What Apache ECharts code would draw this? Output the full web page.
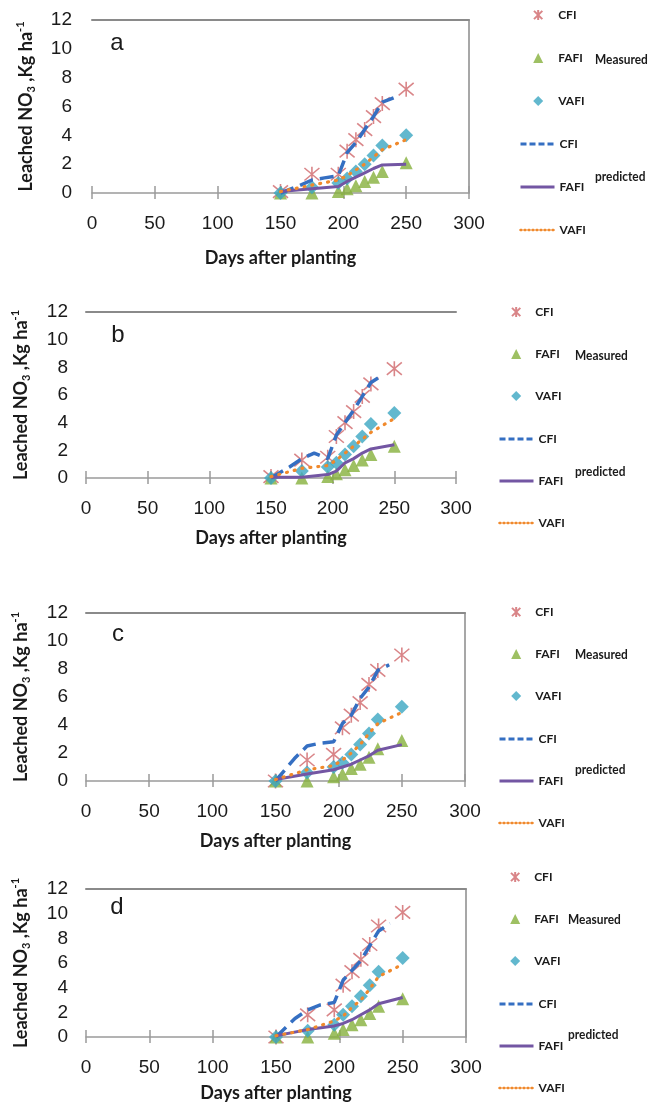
<!DOCTYPE html>
<html lang="en">
<head>
<meta charset="UTF-8">
<title>Leached NO3</title>
<script src="https://cdn.jsdelivr.net/npm/echarts@6/dist/echarts.min.js"></script>
<style>
  html, body { margin: 0; padding: 0; background: #fff; }
  #main { width: 652px; height: 1104px; }
</style>
</head>
<body>
<div id="main"></div>
<script>
// days of the measurements and of the predicted CFI curve
var measuredDays = [150, 175, 196, 203, 210, 217, 224, 231, 250];
var cfiPredDays = [150, 165, 175, 185, 196, 203, 210, 217, 224, 231, 240];
var panelLetters = ['a', 'b', 'c', 'd'];

// panel a
var cfiMeasA  = [0.1, 1.3, 1.3, 2.9, 3.7, 4.4, 5.3, 6.2, 7.2];
var fafiMeasA = [0, 0, 0.1, 0.3, 0.5, 0.8, 1.1, 1.5, 2.1];
var vafiMeasA = [0, 0.4, 0.7, 1.0, 1.5, 2.0, 2.6, 3.3, 4.0];
var cfiPredA  = [0, 0.5, 0.9, 1.05, 1.2, 2.8, 3.5, 4.4, 5.3, 6.3, 6.6];
var fafiPredA = [0.1, 0.3, 0.45, 0.8, 1.1, 1.4, 1.7, 1.95, 2.0];
var vafiPredA = [0.1, 0.55, 0.9, 1.2, 1.6, 2.0, 2.5, 3.0, 3.7];

// panel b
var cfiMeasB  = [0.1, 1.3, 1.5, 3.0, 4.0, 4.8, 5.9, 6.8, 7.9];
var fafiMeasB = [0, 0, 0.1, 0.3, 0.6, 0.9, 1.3, 1.7, 2.3];
var vafiMeasB = [0, 0.5, 0.8, 1.1, 1.7, 2.3, 3.0, 3.9, 4.7];
var cfiPredB  = [0, 0.8, 1.4, 1.8, 1.4, 3.1, 4.0, 4.9, 5.9, 6.9, 7.4];
var fafiPredB = [0.05, 0.05, 0.25, 0.5, 1.1, 1.4, 1.8, 2.1, 2.4];
var vafiPredB = [0.1, 0.7, 0.9, 1.3, 1.8, 2.3, 2.8, 3.3, 4.3];

// panel c
var cfiMeasC  = [0, 1.5, 1.9, 3.8, 4.7, 5.6, 6.9, 7.9, 9.0];
var fafiMeasC = [0, 0, 0.3, 0.5, 0.9, 1.2, 1.7, 2.3, 2.9];
var vafiMeasC = [0, 0.6, 1.0, 1.3, 1.9, 2.6, 3.4, 4.4, 5.3];
var cfiPredC  = [0, 1.6, 2.5, 2.7, 2.8, 4.1, 4.7, 5.9, 6.7, 7.9, 8.3];
var fafiPredC = [0.1, 0.5, 0.8, 1.0, 1.2, 1.5, 1.8, 2.2, 2.6];
var vafiPredC = [0.1, 0.8, 1.1, 1.5, 2.0, 2.6, 3.4, 4.1, 4.9];

// panel d
var cfiMeasD  = [0, 1.8, 2.2, 4.2, 5.3, 6.3, 7.5, 9.0, 10.1];
var fafiMeasD = [0, 0, 0.3, 0.6, 1.0, 1.4, 1.9, 2.5, 3.1];
var vafiMeasD = [0, 0.5, 1.0, 1.8, 2.5, 3.3, 4.2, 5.3, 6.4];
var cfiPredD  = [0, 1.5, 2.2, 2.6, 2.8, 4.6, 5.4, 6.2, 7.4, 8.6, 9.2];
var fafiPredD = [0.1, 0.6, 0.9, 1.1, 1.4, 1.8, 2.2, 2.7, 3.2];
var vafiPredD = [0.1, 0.6, 1.3, 1.7, 2.4, 3.0, 3.9, 4.9, 5.9];

function pairs(xs, ys) {
    var out = [];
    for (var i = 0; i < ys.length; i++) out.push([xs[i], ys[i]]);
    return out;
}

// legM: [icon centre x, first row centre y, row step]; legP: [left, first row centre y]
var panels = [
    { m: [cfiMeasA, fafiMeasA, vafiMeasA], p: [cfiPredA, fafiPredA, vafiPredA],
      grid: { left: 92, top: 20, width: 377, height: 173 }, right: true,
      yGap: 55, xGap: 56, yMargin: 20, legM: [538, 15, 43], legP: [519, 144], textPad: 10,
      letter: [117, 43], meas: [595, 60], pred: [595, 177] },
    { m: [cfiMeasB, fafiMeasB, vafiMeasB], p: [cfiPredB, fafiPredB, vafiPredB],
      grid: { left: 86, top: 312, width: 370, height: 166 }, right: false,
      yGap: 54, xGap: 51, yMargin: 18, legM: [516, 312, 42], legP: [498, 439], textPad: 9,
      letter: [118, 335], meas: [575, 356], pred: [575, 472] },
    { m: [cfiMeasC, fafiMeasC, vafiMeasC], p: [cfiPredC, fafiPredC, vafiPredC],
      grid: { left: 86, top: 613, width: 379, height: 168 }, right: true,
      yGap: 54, xGap: 51, yMargin: 18, legM: [516, 612, 42], legP: [498, 739], textPad: 9,
      letter: [118, 634], meas: [575, 655], pred: [575, 770] },
    { m: [cfiMeasD, fafiMeasD, vafiMeasD], p: [cfiPredD, fafiPredD, vafiPredD],
      grid: { left: 86, top: 889, width: 380, height: 148 }, right: true,
      yGap: 54, xGap: 47, yMargin: 18, legM: [515, 877, 42], legP: [498, 1004], textPad: 9,
      letter: [117, 907], meas: [568, 920], pred: [568, 1035] }
];

var starPath = 'path://M0,0L10,10M10,0L0,10M5,-1L5,11';
var titleFont = 'Lato, "Open Sans", sans-serif';
var legendFont = 'Lato, "Open Sans", sans-serif';
var tickFont = '"Liberation Sans", Arial, sans-serif';
var axisGray = '#9a9a9a';
var ink = '#1a1a1a';

var grids = [], xAxes = [], yAxes = [], series = [], legends = [], graphics = [];

panels.forEach(function (pn, i) {
    var tag = ' ' + panelLetters[i];
    grids.push(pn.grid);

    // main x axis with labels and outward ticks
    xAxes.push({
        gridIndex: i, type: 'value', min: 0, max: 300, interval: 50, position: 'bottom',
        axisLine: { show: true, onZero: false, lineStyle: { color: axisGray, width: 1.5 } },
        axisTick: { show: true, length: 6, lineStyle: { color: axisGray, width: 1.5 } },
        axisLabel: { fontSize: 19, color: ink, margin: 21, fontFamily: tickFont },
        splitLine: { show: false },
        name: 'Days after planting', nameLocation: 'middle', nameGap: pn.xGap,
        nameTextStyle: { fontSize: 18, fontWeight: 'bold', color: ink, fontFamily: titleFont }
    });
    // inward half of the crossing ticks
    xAxes.push({
        gridIndex: i, type: 'value', min: 0, max: 300, interval: 50, position: 'bottom',
        axisLine: { show: false, onZero: false },
        axisTick: { show: true, inside: true, length: 7, lineStyle: { color: axisGray, width: 1.5 } },
        axisLabel: { show: false }, splitLine: { show: false }
    });
    // top border
    xAxes.push({
        gridIndex: i, type: 'value', min: 0, max: 300, position: 'top',
        axisLine: { show: true, onZero: false, lineStyle: { color: '#8a8a8a', width: 2 } },
        axisTick: { show: false }, axisLabel: { show: false }, splitLine: { show: false }
    });

    yAxes.push({
        gridIndex: i, type: 'value', min: 0, max: 12, interval: 2, position: 'left',
        axisLine: { show: false }, axisTick: { show: false }, splitLine: { show: false },
        axisLabel: { fontSize: 19, color: ink, margin: pn.yMargin, fontFamily: tickFont },
        name: '{t|Leached NO}{s|3}{t| ,Kg ha}{p|-1}', nameLocation: 'middle', nameGap: pn.yGap,
        nameTextStyle: {
            rich: {
                t: { fontSize: 18, fontWeight: 'bold', color: ink, fontFamily: titleFont, lineHeight: 22 },
                s: { fontSize: 11, fontWeight: 'bold', color: ink, fontFamily: titleFont, verticalAlign: 'bottom', lineHeight: 11 },
                p: { fontSize: 11, fontWeight: 'bold', color: ink, fontFamily: titleFont, verticalAlign: 'top', lineHeight: 11 }
            }
        }
    });
    // right border
    yAxes.push({
        gridIndex: i, type: 'value', min: 0, max: 12, position: 'right',
        axisLine: { show: pn.right, onZero: false, lineStyle: { color: '#8a8a8a', width: 1.5 } },
        axisTick: { show: false }, axisLabel: { show: false }, splitLine: { show: false }
    });

    var xi = 3 * i, yi = 2 * i;
    var mNames = ['CFI measured' + tag, 'FAFI measured' + tag, 'VAFI measured' + tag];
    var pNames = ['CFI predicted' + tag, 'FAFI predicted' + tag, 'VAFI predicted' + tag];

    series.push({
        name: mNames[0], type: 'scatter', xAxisIndex: xi, yAxisIndex: yi, clip: false, z: 2,
        symbol: starPath, symbolSize: 15,
        itemStyle: { color: 'rgba(0,0,0,0)', borderColor: '#d0666a', borderWidth: 1.6 },
        data: pairs(measuredDays, pn.m[0])
    });
    series.push({
        name: mNames[1], type: 'scatter', xAxisIndex: xi, yAxisIndex: yi, clip: false, z: 2,
        symbol: 'triangle', symbolSize: 13,
        itemStyle: { color: '#86b03c' },
        data: pairs(measuredDays, pn.m[1])
    });
    series.push({
        name: mNames[2], type: 'scatter', xAxisIndex: xi, yAxisIndex: yi, clip: false, z: 2,
        symbol: 'diamond', symbolSize: 14,
        itemStyle: { color: '#3ba6c2' },
        data: pairs(measuredDays, pn.m[2])
    });
    series.push({
        name: pNames[0], type: 'line', xAxisIndex: xi, yAxisIndex: yi, clip: false, z: 3,
        symbol: 'none',
        lineStyle: { color: '#356fc2', width: 3.5, type: [14, 7] },
        itemStyle: { color: '#356fc2' },
        data: pairs(cfiPredDays, pn.p[0])
    });
    series.push({
        name: pNames[1], type: 'line', xAxisIndex: xi, yAxisIndex: yi, clip: false, z: 3,
        symbol: 'none',
        lineStyle: { color: '#7356a3', width: 3 },
        itemStyle: { color: '#7356a3' },
        data: pairs(measuredDays, pn.p[1])
    });
    series.push({
        name: pNames[2], type: 'line', xAxisIndex: xi, yAxisIndex: yi, clip: false, z: 3,
        symbol: 'none',
        lineStyle: { color: '#f0892c', width: 3.2, type: [1, 7], cap: 'round' },
        itemStyle: { color: '#f0892c' },
        data: pairs(measuredDays, pn.p[2])
    });

    var legendText = { fontSize: 12, fontWeight: 'bold', color: ink, fontFamily: legendFont, lineHeight: 12 };
    var shortName = function (name) { return name.split(' ')[0]; };

    // measured: marker icons only
    legends.push({
        orient: 'vertical', left: pn.legM[0] - 5, top: pn.legM[1] - 6, itemGap: pn.legM[2] - 12,
        padding: 0, itemWidth: 10, itemHeight: 10, selectedMode: false,
        data: mNames, formatter: shortName,
        textStyle: Object.assign({ padding: [0, 0, 0, pn.textPad] }, legendText)
    });
    // predicted: line icons only
    legends.push({
        orient: 'vertical', left: pn.legP[0], top: pn.legP[1] - 6, itemGap: pn.legM[2] - 12,
        padding: 0, itemWidth: 34, itemHeight: 12, selectedMode: false,
        itemStyle: { color: 'rgba(0,0,0,0)', borderWidth: 0 },
        data: [
            { name: pNames[0], lineStyle: { type: [6, 3], width: 3 } },
            { name: pNames[1], lineStyle: { width: 3 } },
            { name: pNames[2], lineStyle: { type: [1, 3], width: 2.5 } }
        ],
        formatter: shortName,
        textStyle: legendText
    });

    graphics.push({
        type: 'text', left: pn.meas[0], top: pn.meas[1] - 8, scaleX: 0.85,
        style: { text: 'Measured', font: 'bold 14px ' + legendFont, fill: ink }
    });
    graphics.push({
        type: 'text', left: pn.pred[0], top: pn.pred[1] - 8, scaleX: 0.85,
        style: { text: 'predicted', font: 'bold 14px ' + legendFont, fill: ink }
    });
    graphics.push({
        type: 'text', x: pn.letter[0], y: pn.letter[1],
        style: { text: panelLetters[i], font: '24px ' + tickFont, fill: ink,
                 align: 'center', verticalAlign: 'middle' }
    });
});

var chart = echarts.init(document.getElementById('main'), null, { renderer: 'canvas' });
chart.setOption({
    animation: false,
    backgroundColor: '#ffffff',
    grid: grids,
    xAxis: xAxes,
    yAxis: yAxes,
    legend: legends,
    graphic: graphics,
    series: series
});
</script>
</body>
</html>
